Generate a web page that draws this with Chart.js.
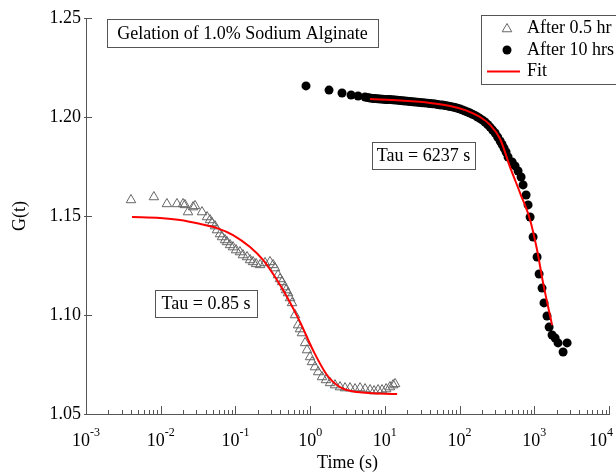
<!DOCTYPE html>
<html><head><meta charset="utf-8">
<script src="https://cdn.jsdelivr.net/npm/chart.js@4.4.0/dist/chart.umd.min.js"></script>
<style>html,body{margin:0;padding:0;background:#fff;}canvas{display:block;}</style>
</head><body>
<canvas id="c" width="616" height="472"></canvas>
<script>
const FONT = "'Liberation Serif','Times New Roman',serif";

// After 0.5 hr (time in s, G(t))
const t05 = [0.0040,0.0081,0.0121,0.0165,0.0199,0.0211,0.0232,0.0271,0.0288,0.0357,0.0417,0.0457,0.0486,0.0533,0.0567,0.0622,0.0662,0.0726,0.0772,0.0847,0.0929,0.102,0.115,0.126,0.143,0.157,0.172,0.189,0.214,0.249,0.290,0.319,0.339,0.372,0.395,0.421,0.461,0.476,0.506,0.538,0.572,0.628,0.689,0.732,0.779,0.855,0.909,0.997,1.06,1.16,1.28,1.44,1.63,1.85,2.15,2.51,2.93,3.42,3.99,4.66,5.43,6.34,7.17,8.11,9.17,10.4,11.7,12.9,13.7];
const g05 = [1.1581,1.1596,1.1561,1.1561,1.1561,1.1556,1.1520,1.1545,1.1551,1.1520,1.1495,1.1480,1.1465,1.1449,1.1429,1.1409,1.1394,1.1379,1.1369,1.1354,1.1343,1.1328,1.1318,1.1303,1.1293,1.1278,1.1268,1.1258,1.1253,1.1263,1.1268,1.1253,1.1237,1.1202,1.1182,1.1167,1.1141,1.1126,1.1111,1.1086,1.1061,1.1000,1.0949,1.0929,1.0909,1.0859,1.0823,1.0788,1.0763,1.0737,1.0712,1.0687,1.0672,1.0657,1.0646,1.0636,1.0631,1.0631,1.0626,1.0631,1.0626,1.0621,1.0616,1.0621,1.0621,1.0626,1.0636,1.0646,1.0652];

// After 10 hrs
const t10 = [0.88,1.79,2.67,3.53,4.38,5.43,5.87,6.34,6.84,7.39,7.98,8.63,9.31,10.1,10.9,11.7,12.7,13.7,14.8,16.0,17.3,18.6,20.1,21.7,23.5,25.4,27.4,29.6,32.0,34.5,37.3,40.3,43.5,47.0,50.8,54.8,59.2,64.0,69.1,74.6,80.6,87.1,94.0,102,110,119,128,138,149,161,174,188,203,219,237,256,277,299,323,349,371,394,419,446,505,553,607,666,708,777,826,879,964,1090,1160,1270,1350,1480,1580,1730,1900,2080,2430,2750];
const g10 = [1.2157,1.2136,1.2121,1.2111,1.2106,1.2101,1.2098,1.2096,1.2094,1.2093,1.2092,1.2091,1.2090,1.2088,1.2088,1.2088,1.2087,1.2086,1.2085,1.2083,1.2082,1.2081,1.2080,1.2078,1.2077,1.2076,1.2075,1.2073,1.2072,1.2071,1.2070,1.2068,1.2067,1.2066,1.2063,1.2061,1.2060,1.2058,1.2056,1.2053,1.2051,1.2048,1.2044,1.2040,1.2035,1.2030,1.2025,1.2020,1.2014,1.2008,1.2000,1.1992,1.1984,1.1975,1.1962,1.1949,1.1934,1.1919,1.1899,1.1879,1.1861,1.1843,1.1823,1.1798,1.1773,1.1753,1.1727,1.1697,1.1657,1.1606,1.1556,1.1495,1.1394,1.1293,1.1207,1.1136,1.1061,1.0995,1.0939,1.0899,1.0884,1.0859,1.0813,1.0859];

// Fit curves
const fit1T = [0.00413,0.00979,0.0181,0.0336,0.0567,0.0929,0.157,0.234,0.360,0.491,0.732,1.09,1.68,2.51,4.25,14.6];
const fit1G = [1.1495,1.1490,1.1480,1.1460,1.1439,1.1404,1.1343,1.1278,1.1177,1.1091,1.0965,1.0823,1.0697,1.0636,1.0611,1.0601];
const fit2T = [6.34,16.0,40.3,74.6,119,188,256,349,474,646,879,1090,1312,1730];
const fit2G = [1.2091,1.2083,1.2071,1.2056,1.2035,1.2000,1.1960,1.1889,1.1747,1.1616,1.1480,1.1328,1.1162,1.0949];

// Ticks and texts
const xTickValues = [0.001,0.01,0.1,1,10,100,1000,10000];
const xTickExps = ['-3','-2','-1','0','1','2','3','4'];
const yTickValues = [1.05,1.10,1.15,1.20,1.25];
const seriesLabels = ['After 0.5 hr','After 10 hrs','Fit'];
const titleText = 'Gelation of 1.0% Sodium Alginate';
const tauLabels = ['Tau = 0.85 s','Tau = 6237 s'];
const xTitle = 'Time (s)';
const yTitle = 'G(t)';

const zip = (xs, ys) => xs.map((x, i) => ({x: x, y: ys[i]}));

function tri(ctx, cx, cy, r) {
  ctx.beginPath();
  ctx.moveTo(cx, cy - r);
  ctx.lineTo(cx + 0.866 * r, cy + 0.5 * r);
  ctx.lineTo(cx - 0.866 * r, cy + 0.5 * r);
  ctx.closePath();
  ctx.stroke();
}

const deco = {
  id: 'deco',
  afterDraw(chart) {
    const {ctx, chartArea: a, scales: {x, y}} = chart;
    ctx.save();
    ctx.strokeStyle = '#555';
    ctx.lineWidth = 1;
    ctx.beginPath();
    for (let d = 0; d < xTickValues.length; d++) {
      const v = xTickValues[d];
      const px = Math.round(x.getPixelForValue(v)) + 0.5;
      ctx.moveTo(px, a.bottom); ctx.lineTo(px, a.bottom - 8);
      if (d < xTickValues.length - 1) {
        for (let m = 2; m <= 9; m++) {
          const p = Math.round(x.getPixelForValue(v * m)) + 0.5;
          ctx.moveTo(p, a.bottom); ctx.lineTo(p, a.bottom - 4);
        }
      }
    }
    yTickValues.forEach(v => {
      const py = Math.round(y.getPixelForValue(v)) + 0.5;
      ctx.moveTo(a.left - 2, py); ctx.lineTo(a.left + 6, py);
    });
    ctx.stroke();

    // x tick labels with superscripts
    ctx.fillStyle = '#000';
    ctx.textBaseline = 'alphabetic';
    ctx.textAlign = 'left';
    xTickValues.forEach((v, i) => {
      const px = x.getPixelForValue(v);
      ctx.font = '18px ' + FONT; const w1 = ctx.measureText('10').width;
      ctx.font = '12px ' + FONT; const w2 = ctx.measureText(xTickExps[i]).width;
      let x0 = px - (w1 + w2) / 2;
      if (x0 + w1 + w2 > chart.width - 3) x0 = chart.width - 3 - w1 - w2;
      ctx.font = '18px ' + FONT; ctx.fillText('10', x0, 446);
      ctx.font = '12px ' + FONT; ctx.fillText(xTickExps[i], x0 + w1, 436);
    });

    // text boxes
    ctx.font = '18px ' + FONT;
    ctx.textBaseline = 'middle';
    ctx.strokeStyle = '#555';
    const box = (l, t, w, h, txt) => {
      ctx.fillStyle = '#fff';
      ctx.fillRect(l, t, w, h);
      ctx.strokeRect(l + 0.5, t + 0.5, w, h);
      ctx.fillStyle = '#000';
      ctx.textAlign = 'center';
      ctx.fillText(txt, l + w / 2, t + h / 2 + 1);
    };
    box(107, 19, 271, 28, titleText);
    box(155, 290, 102, 27, tauLabels[0]);
    box(372, 142, 103, 27, tauLabels[1]);

    // legend
    ctx.fillStyle = '#fff';
    ctx.fillRect(481, 15, 150, 69);
    ctx.strokeRect(481.5, 15.5, 150, 69);
    ctx.strokeStyle = '#666';
    ctx.lineWidth = 1;
    tri(ctx, 507, 29, 5.5);
    ctx.fillStyle = '#000';
    ctx.beginPath(); ctx.arc(507, 50, 4.5, 0, Math.PI * 2); ctx.fill();
    ctx.strokeStyle = '#ff0000'; ctx.lineWidth = 2;
    ctx.beginPath(); ctx.moveTo(487, 71.5); ctx.lineTo(520, 71.5); ctx.stroke();
    ctx.fillStyle = '#000';
    ctx.textAlign = 'left';
    ctx.fillText(seriesLabels[0], 527, 28);
    ctx.fillText(seriesLabels[1], 527, 50);
    ctx.fillText(seriesLabels[2], 527, 71);
    ctx.restore();
  }
};

new Chart(document.getElementById('c'), {
  type: 'scatter',
  data: {
    datasets: [
      {label: seriesLabels[2], data: zip(fit1T, fit1G), showLine: true, borderColor: '#ff0000', borderWidth: 2, pointRadius: 0, cubicInterpolationMode: 'monotone', order: 0},
      {label: seriesLabels[2], data: zip(fit2T, fit2G), showLine: true, borderColor: '#ff0000', borderWidth: 2, pointRadius: 0, cubicInterpolationMode: 'monotone', order: 0},
      {label: seriesLabels[0], data: zip(t05, g05), pointStyle: 'triangle', pointRadius: 5.5, borderColor: '#666', borderWidth: 1, backgroundColor: 'rgba(0,0,0,0)', order: 2},
      {label: seriesLabels[1], data: zip(t10, g10), pointStyle: 'circle', pointRadius: 4.5, borderWidth: 0, backgroundColor: '#000', order: 2}
    ]
  },
  options: {
    responsive: false,
    animation: false,
    devicePixelRatio: 1,
    layout: {padding: {top: 18, right: 7, left: 0, bottom: 0}},
    plugins: {legend: {display: false}, tooltip: {enabled: false}},
    scales: {
      x: {
        type: 'logarithmic', min: 0.001, max: 10000,
        grid: {display: false, drawTicks: false},
        border: {display: true, color: '#555', width: 1},
        ticks: {display: false},
        afterBuildTicks: s => { s.ticks = xTickValues.map(v => ({value: v})); },
        afterFit: s => { s.height = 58; },
        title: {display: true, text: xTitle, color: '#000', font: {family: FONT, size: 18}, padding: {top: 0, bottom: -2}}
      },
      y: {
        type: 'linear', min: 1.05, max: 1.25,
        grid: {display: false, drawTicks: false},
        border: {display: true, color: '#555', width: 1},
        ticks: {color: '#000', font: {family: FONT, size: 18}, padding: 5, callback: v => Number(v).toFixed(2)},
        afterBuildTicks: s => { s.ticks = yTickValues.map(v => ({value: v})); },
        afterFit: s => { s.width = 86; },
        title: {display: true, text: yTitle, color: '#000', font: {family: FONT, size: 18}, padding: {top: 9, bottom: 0}}
      }
    }
  },
  plugins: [deco]
});
</script>
</body></html>
